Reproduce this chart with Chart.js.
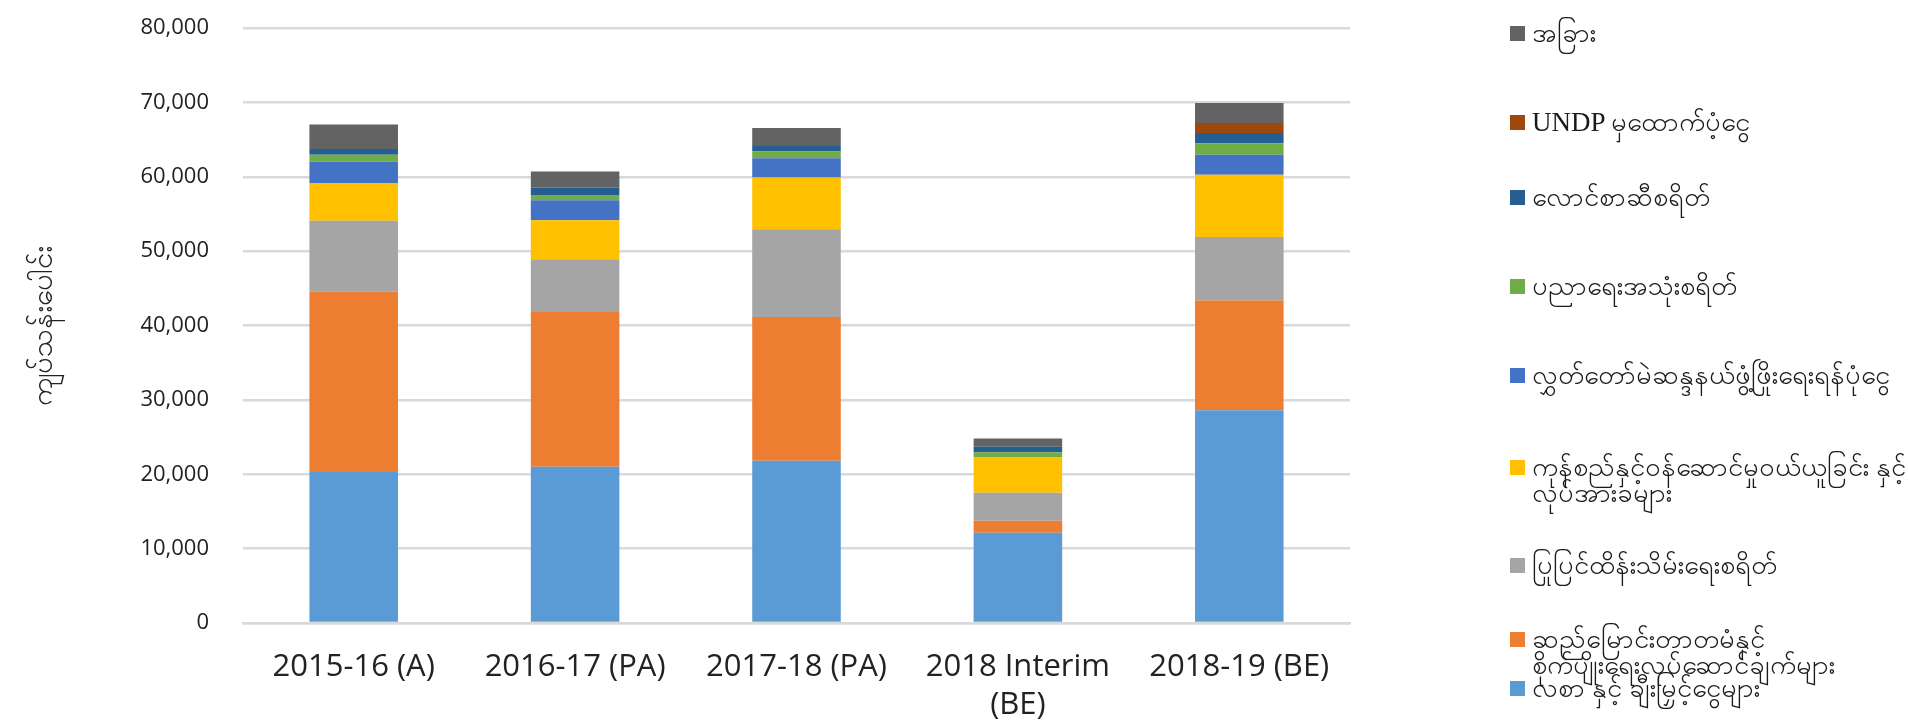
<!DOCTYPE html>
<html>
<head>
<meta charset="utf-8">
<script src="https://cdn.jsdelivr.net/npm/chart.js@4"></script>
<style>
  html, body { margin: 0; padding: 0; background: #fff; }
  #wrap { position: relative; width: 1908px; height: 728px; overflow: hidden; }
  #legend { position: absolute; left: 1510px; top: 0; width: 398px; height: 728px; }
  .item { position: absolute; left: 0; display: flex; align-items: flex-start;
          font-family: "Liberation Serif", "Noto Sans", serif; font-size: 27px; color: #1a1a1a; line-height: 26px; }
  .box { width: 15px; height: 15px; margin-top: 6px; margin-right: 7px; flex: none; }
</style>
</head>
<body>
<div id="wrap">
  <canvas id="budgetChart" width="1908" height="728"></canvas>
  <div id="legend"></div>
</div>
<script>
// Kategori tahun anggaran
const categories = ["2015-16 (A)", "2016-17 (PA)", "2017-18 (PA)", ["2018 Interim", "(BE)"], "2018-19 (BE)"];

// Nilai tiap seri (juta kyat)
const salaries    = [20300, 21000, 21800, 12150, 28600];
const irrigation  = [24250, 20800, 19350, 1600, 14770];
const maintenance = [9550, 7100, 11800, 3750, 8530];
const goods       = [5050, 5250, 6950, 4750, 8360];
const hluttawFund = [2880, 2700, 2600, 0, 2690];
const education   = [940, 700, 900, 700, 1570];
const fuel        = [760, 1000, 750, 750, 1350];
const undpGrant   = [0, 0, 0, 0, 1350];
const other       = [3300, 2150, 2400, 1100, 2680];

const seriesNames = [
  ["လစာ နှင့် ချီးမြှင့်ငွေများ"],
  ["ဆည်မြောင်းတာတမံနှင့်", "စိုက်ပျိုးရေးလုပ်ဆောင်ချက်များ"],
  ["ပြုပြင်ထိန်းသိမ်းရေးစရိတ်"],
  ["ကုန်စည်နှင့်ဝန်ဆောင်မှုဝယ်ယူခြင်း နှင့်", "လုပ်အားခများ"],
  ["လွှတ်တော်မဲဆန္ဒနယ်ဖွံ့ဖြိုးရေးရန်ပုံငွေ"],
  ["ပညာရေးအသုံးစရိတ်"],
  ["လောင်စာဆီစရိတ်"],
  ["UNDP မှထောက်ပံ့ငွေ"],
  ["အခြား"],
];

const yTicks = [0, 10000, 20000, 30000, 40000, 50000, 60000, 70000, 80000];
const yTitle = "ကျပ်သန်းပေါင်း";

// warna ala Excel
const colors = ["#5B9BD5", "#ED7D31", "#A5A5A5", "#FFC000", "#4472C4", "#70AD47", "#255E91", "#9E480E", "#636363"];
// posisi vertikal legenda (urutan dari atas)
const legendTops = [20, 109, 184, 273, 362, 454, 552, 626, 675];

const allSeries = [salaries, irrigation, maintenance, goods, hluttawFund, education, fuel, undpGrant, other];

const datasets = allSeries.map((values, i) => ({
  label: seriesNames[i].join(" "),
  data: values,
  backgroundColor: colors[i],
  borderWidth: 0,
  categoryPercentage: 1,
  barPercentage: 0.4,
}));

const chart = new Chart(document.getElementById("budgetChart"), {
  type: "bar",
  data: { labels: categories, datasets: datasets },
  options: {
    responsive: false,
    animation: false,
    layout: { padding: { top: 28, right: 558, bottom: 0, left: 0 } },
    plugins: { legend: { display: false }, tooltip: { enabled: false } },
    scales: {
      x: {
        stacked: true,
        grid: { display: false, drawTicks: false },
        border: { color: "#D9D9D9", width: 2.5 },
        ticks: { color: "#222", padding: 26, maxRotation: 0, autoSkip: false,
                 font: { family: "'Open Sans', sans-serif", size: 31 } },
        afterFit: (scale) => { scale.height = 105; },
      },
      y: {
        stacked: true,
        min: 0,
        max: 80000,
        afterBuildTicks: (scale) => { scale.ticks = yTicks.map((v) => ({ value: v })); },
        grid: { color: "#D9D9D9", lineWidth: 2.5, drawTicks: false },
        border: { display: false },
        ticks: { color: "#222", padding: 34,
                 font: { family: "'Open Sans', sans-serif", size: 22 },
                 callback: (v) => v.toLocaleString("en-US") },
        title: { display: true, text: yTitle, color: "#222", padding: { top: 26, bottom: 0 },
                 font: { family: "'Noto Sans', sans-serif", size: 29 } },
        afterFit: (scale) => {
          scale.width = 243;
          // padding label jangan mendorong area grafik ke bawah
          scale.paddingTop = 0;
          scale.paddingBottom = 0;
        },
      },
    },
  },
});

// legenda HTML (urutan terbalik seperti Excel)
const legend = document.getElementById("legend");
for (let k = 0; k < datasets.length; k++) {
  const i = datasets.length - 1 - k;
  const item = document.createElement("div");
  item.className = "item";
  item.style.top = legendTops[k] + "px";
  item.innerHTML = `<span class="box" style="background:${colors[i]}"></span><span>${seriesNames[i].join("<br>")}</span>`;
  legend.appendChild(item);
}
</script>
</body>
</html>
